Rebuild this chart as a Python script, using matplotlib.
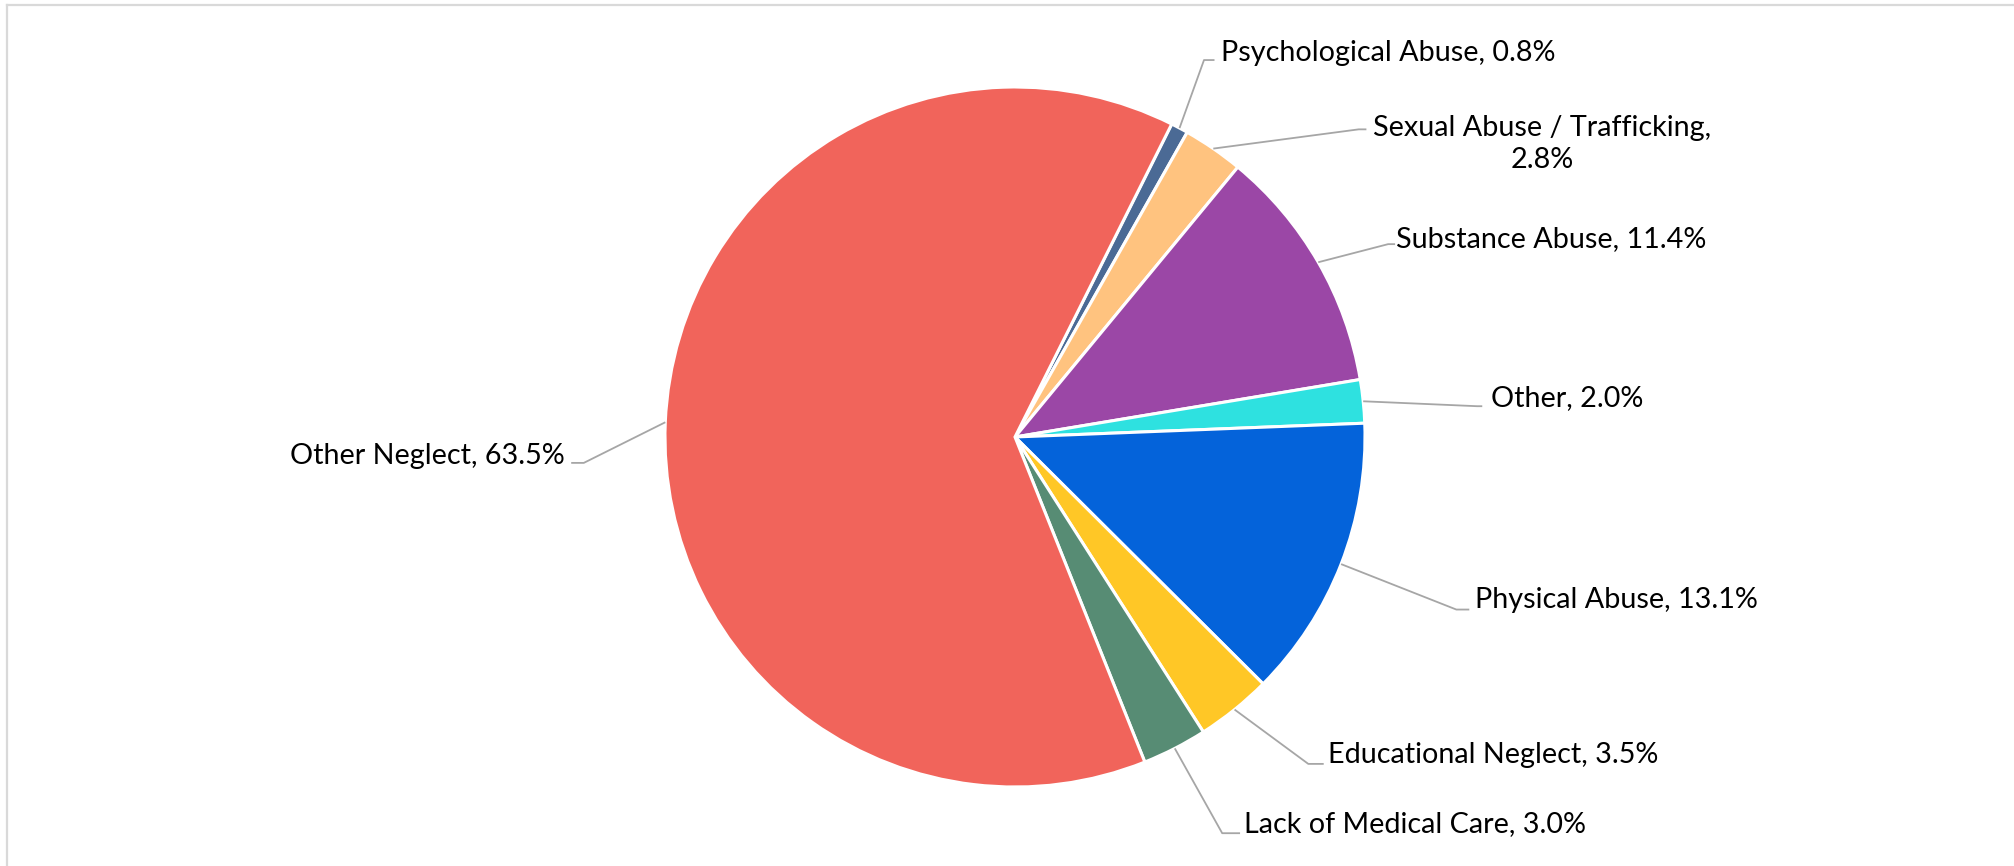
import numpy as np
import matplotlib.pyplot as plt
from matplotlib.lines import Line2D

categories = ['Psychological Abuse', 'Sexual Abuse / Trafficking', 'Substance Abuse', 'Other',
              'Physical Abuse', 'Educational Neglect', 'Lack of Medical Care', 'Other Neglect']
values = [0.8, 2.8, 11.4, 2.0, 13.1, 3.5, 3.0, 63.5]
colors = ['#4b6a95', '#ffc37f', '#9b47a6', '#2ee1e0', '#0463da', '#ffc726', '#578c74', '#f1645b']

# label layout (pie radius = 1): text anchor, elbow point, end of horizontal
label_pos = [(0.588, 1.096), (1.507, 0.838), (1.088, 0.566), (1.360, 0.110),
             (1.313, -0.467), (0.893, -0.908), (0.654, -1.107), (-1.287, -0.055)]
elbows = [(0.540, 1.077), (0.982, 0.879), (1.066, 0.551), (1.320, 0.088),
          (1.261, -0.493), (0.838, -0.934), (0.592, -1.132), (-1.232, -0.074)]
ends = [(0.570, 1.077), (1.004, 0.879), (1.086, 0.551), (1.335, 0.088),
        (1.298, -0.493), (0.882, -0.934), (0.643, -1.132), (-1.268, -0.074)]

W, H = 2015, 866
cx, cy, R = 1015, 437, 350
fs = 20.7

plt.rcParams['font.family'] = ['Lato', 'DejaVu Sans']

fig = plt.figure(figsize=(W / 100, H / 100), dpi=100)
ax = fig.add_axes([0, 0, 1, 1])

wedges, _ = ax.pie(values, colors=colors, startangle=63.4, counterclock=False,
                   wedgeprops=dict(edgecolor='white', linewidth=2.2))

ax.set_xlim(-cx / R, (W - cx) / R)
ax.set_ylim(-(H - cy) / R, cy / R)
ax.set_aspect('equal')
ax.axis('off')

for i, w in enumerate(wedges):
    ang = np.deg2rad((w.theta1 + w.theta2) / 2)
    x0, y0 = np.cos(ang), np.sin(ang)
    ax.plot([x0, elbows[i][0], ends[i][0]], [y0, elbows[i][1], ends[i][1]],
            color='#a6a6a6', lw=1.3, solid_capstyle='butt')
    name = categories[i]
    if name.startswith('Sexual'):
        txt = name + ',\n' + f'{values[i]:.1f}%'
        ax.text(label_pos[i][0], label_pos[i][1], txt, ha='center', va='center',
                fontsize=fs, linespacing=1.3)
    elif i == len(categories) - 1:
        ax.text(label_pos[i][0], label_pos[i][1], f'{name}, {values[i]:.1f}%',
                ha='right', va='center', fontsize=fs)
    else:
        ax.text(label_pos[i][0], label_pos[i][1], f'{name}, {values[i]:.1f}%',
                ha='left', va='center', fontsize=fs)

# light frame on left and top like the source chart
fig.add_artist(Line2D([7 / W, 7 / W], [0, 1 - 5 / H], transform=fig.transFigure,
                      color='#d9d9d9', lw=1.6))
fig.add_artist(Line2D([7 / W, 1], [1 - 5 / H, 1 - 5 / H], transform=fig.transFigure,
                      color='#d9d9d9', lw=1.6))

fig.savefig('out.png', dpi=100, facecolor='white')
